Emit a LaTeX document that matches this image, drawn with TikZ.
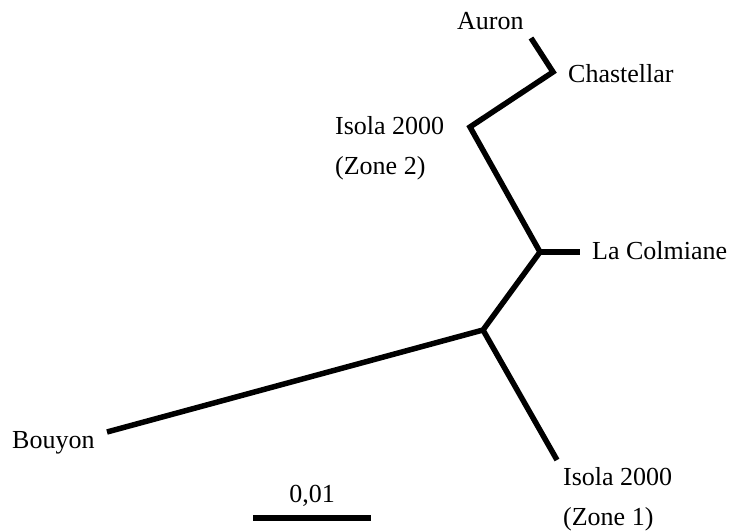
\documentclass[tikz,border=0pt]{standalone}
\usepackage{fontspec}
\setmainfont{Liberation Serif}

\begin{document}
\begin{tikzpicture}[x=1pt, y=-1pt,
      br/.style={line width=5.5pt},
      lbl/.style={font=\fontsize{26}{40}\selectfont, inner sep=0pt, anchor=base west}]
    \useasboundingbox (0,0) rectangle (732,532);
    % inner nodes of the tree
    \coordinate (ch) at (553,72);
    \coordinate (i2) at (470,127);
    \coordinate (lc) at (540,252);
    \coordinate (rt) at (483,330);
    % branch tips
    \coordinate (au)  at (531,38);
    \coordinate (lct) at (580,252);
    \coordinate (bo)  at (107,432);
    \coordinate (i1)  at (557,460);
    \coordinate (s1)  at (253,518);
    \coordinate (s2)  at (371,518);
    \draw[br] (au) -- (ch) -- (i2) -- (lc) -- (rt) -- (bo);
    \draw[br] (lc) -- (lct);
    \draw[br] (rt) -- (i1);
    \draw[br] (s1) -- (s2);
    % labels
    \node[lbl] (auron)  at (457,30)  {Auron};
    \node[lbl] (chast)  at (568,83)  {Chastellar};
    \node[lbl] (isola2) at (335,135) {Isola 2000};
    \node[lbl] (zone2)  at (335,175) {(Zone 2)};
    \node[lbl] (colm)   at (592,260) {La Colmiane};
    \node[lbl] (bouyon) at (12,448)  {Bouyon};
    \node[lbl] (isola1) at (563,485) {Isola 2000};
    \node[lbl] (zone1)  at (563,525) {(Zone 1)};
    \node[lbl, anchor=base] (scl) at (312,502) {0,01};
  \end{tikzpicture}
\end{document}
